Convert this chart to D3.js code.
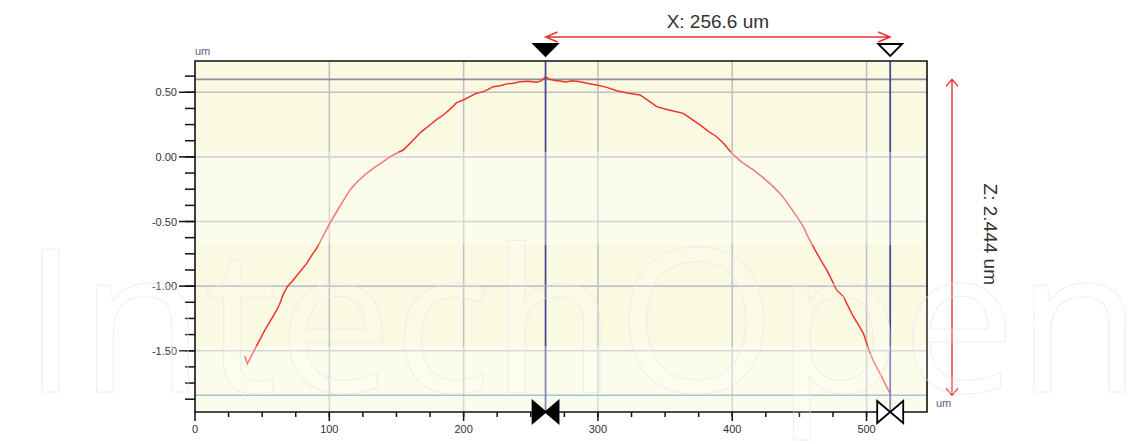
<!DOCTYPE html>
<html>
<head>
<meta charset="utf-8">
<script src="https://cdn.jsdelivr.net/npm/d3@7"></script>
<style>
  body { margin: 0; background: #fff; }
  svg { display: block; font-family: "Liberation Sans", Arial, sans-serif; }
</style>
</head>
<body>
<svg id="chart" width="1143" height="444"></svg>
<script>
// profile (x in um, z in um)
const profileX = [37, 39, 46, 52, 56, 60.8, 63, 65.8, 69, 73.2, 78, 83.2, 87, 90.6, 95, 100.5, 108, 115.4, 121, 127.8,
  134, 140.2, 145, 150.2, 155.1, 162.5, 168, 174.9, 180, 184.8, 190, 194.8, 199.8, 204.7, 209, 214.6, 218, 222, 227, 232,
  237, 242, 248, 254.4, 258, 261, 264, 268, 271.8, 276, 281, 286.7, 292, 299, 306, 314, 322, 331.3, 337, 343.8,
  350, 356, 363.6, 370, 376, 382, 388.4, 394, 399.6, 407, 415.7, 423, 430.6, 437, 443, 448, 452.9, 457, 461.6, 466,
  470.3, 474, 477.7, 482.8, 485.2, 490.2, 494, 497.6, 502.6, 506, 510, 514, 517.5]
const profileZ = [-1.54, -1.6, -1.46, -1.34, -1.27, -1.185, -1.14, -1.06, -1.0, -0.953, -0.89, -0.824, -0.76, -0.707, -0.62, -0.51, -0.38, -0.256, -0.19, -0.127,
  -0.08, -0.037, 0.0, 0.028, 0.053, 0.131, 0.19, 0.247, 0.29, 0.324, 0.37, 0.42, 0.44, 0.466, 0.49, 0.505, 0.52, 0.543, 0.55, 0.565,
  0.57, 0.582, 0.585, 0.577, 0.59, 0.62, 0.6, 0.592, 0.587, 0.58, 0.59, 0.582, 0.57, 0.556, 0.54, 0.512, 0.495, 0.479, 0.44, 0.389,
  0.37, 0.355, 0.337, 0.29, 0.247, 0.2, 0.156, 0.1, 0.028, -0.04, -0.101, -0.16, -0.23, -0.3, -0.385, -0.46, -0.54, -0.63, -0.72, -0.80,
  -0.875, -0.95, -1.03, -1.082, -1.133, -1.237, -1.30, -1.365, -1.52, -1.60, -1.675, -1.76, -1.83]

const xMajorTicks = [0, 100, 200, 300, 400, 500]
const yMajorTicks = [0.5, 0.0, -0.5, -1.0, -1.5]
const yTickLabels = ['0.50', '0.00', '-0.50', '-1.00', '-1.50']

// cursors: x positions, z levels of the two markers
const cursorX = [261, 517.6]
const cursorZ = [0.6, -1.844]
const dxLabel = 'X: 256.6 um'
const dzLabel = 'Z: 2.444 um'

const svg = d3.select('#chart')
// plot box in px (window.top is taken, so pTop etc)
const pLeft = 195, pRight = 927, pTop = 61, pBottom = 412

const x = d3.scaleLinear().domain([0, 545]).range([pLeft, pRight])
const y = d3.scaleLinear().domain([-1.974, 0.742]).range([pBottom, pTop])

// plot background
svg.append('rect')
  .attr('x', pLeft).attr('y', pTop)
  .attr('width', pRight - pLeft).attr('height', pBottom - pTop)
  .attr('fill', '#fafae3')

// grid
const grid = svg.append('g').attr('stroke', '#bfc0c6').attr('stroke-width', 1.6)
grid.selectAll('.vg').data(xMajorTicks.slice(1)).enter().append('line')
  .attr('x1', d => x(d)).attr('x2', d => x(d))
  .attr('y1', pTop).attr('y2', pBottom)
grid.selectAll('.hg').data(yMajorTicks).enter().append('line')
  .attr('y1', d => y(d)).attr('y2', d => y(d))
  .attr('x1', pLeft).attr('x2', pRight)

// horizontal cursor levels
svg.append('line')
  .attr('x1', pLeft).attr('x2', pRight)
  .attr('y1', y(cursorZ[0])).attr('y2', y(cursorZ[0]))
  .attr('stroke', '#8e8e96').attr('stroke-width', 1.6)
svg.append('line')
  .attr('x1', pLeft).attr('x2', pRight)
  .attr('y1', y(cursorZ[1])).attr('y2', y(cursorZ[1]))
  .attr('stroke', '#6aa8bd').attr('stroke-width', 1.6)

// profile curve
const pts = profileX.map((d, i) => [d, profileZ[i]])
svg.append('path')
  .datum(pts)
  .attr('d', d3.line().x(d => x(d[0])).y(d => y(d[1])))
  .attr('fill', 'none')
  .attr('stroke', '#f0322a')
  .attr('stroke-width', 1.5)

// vertical cursors
svg.selectAll('.cur').data(cursorX).enter().append('line')
  .attr('x1', d => x(d)).attr('x2', d => x(d))
  .attr('y1', pTop).attr('y2', pBottom)
  .attr('stroke', '#4a4a90').attr('stroke-width', 1.8)

// washed out bands (scan artefact in the original)
const bands = [[152, 245], [346, 415]]
svg.selectAll('.band').data(bands).enter().append('rect')
  .attr('x', 188).attr('width', 1015 - 188)
  .attr('y', d => d[0]).attr('height', d => d[1] - d[0])
  .attr('fill', '#fff').attr('opacity', 0.35)

// frame
svg.append('path')
  .attr('d', `M${pLeft},${pBottom}V${pTop}H${pRight}V${pBottom}Z`)
  .attr('fill', 'none').attr('stroke', '#111').attr('stroke-width', 1.6)

// y axis ticks
const yMinor = d3.range(-1.875, 0.7, 0.125)
svg.selectAll('.ymin').data(yMinor).enter().append('line')
  .attr('x1', pLeft - 10).attr('x2', pLeft)
  .attr('y1', d => y(d)).attr('y2', d => y(d))
  .attr('stroke', '#111').attr('stroke-width', 1.5)
svg.selectAll('.ymaj').data(yMajorTicks).enter().append('line')
  .attr('x1', pLeft - 16).attr('x2', pLeft)
  .attr('y1', d => y(d)).attr('y2', d => y(d))
  .attr('stroke', '#111').attr('stroke-width', 1.5)
svg.selectAll('.ylab').data(yMajorTicks).enter().append('text')
  .attr('x', pLeft - 18).attr('y', d => y(d) + 4)
  .attr('text-anchor', 'end')
  .attr('font-size', 11).attr('fill', '#333')
  .text((d, i) => yTickLabels[i])

// x axis ticks
const xMinor = d3.range(25, 545, 25)
svg.selectAll('.xmin').data(xMinor).enter().append('line')
  .attr('x1', d => x(d)).attr('x2', d => x(d))
  .attr('y1', pBottom).attr('y2', pBottom + 5)
  .attr('stroke', '#111').attr('stroke-width', 1.5)
svg.selectAll('.xmaj').data(xMajorTicks).enter().append('line')
  .attr('x1', d => x(d)).attr('x2', d => x(d))
  .attr('y1', pBottom).attr('y2', pBottom + 9)
  .attr('stroke', '#111').attr('stroke-width', 1.5)
svg.selectAll('.xlab').data(xMajorTicks).enter().append('text')
  .attr('x', d => x(d)).attr('y', pBottom + 21)
  .attr('text-anchor', 'middle')
  .attr('font-size', 11).attr('fill', '#333')
  .text(d => d)

// unit labels
svg.append('text').attr('x', pLeft).attr('y', 55)
  .attr('font-size', 11).attr('fill', '#5b5b8c').text('um')
svg.append('text').attr('x', 936).attr('y', 407)
  .attr('font-size', 11).attr('fill', '#5b5b8c').text('um')

// cursor markers, top
svg.selectAll('.tmark').data(cursorX).enter().append('path')
  .attr('d', d => `M${x(d) - 12},${pTop - 17}H${x(d) + 12}L${x(d)},${pTop - 5}Z`)
  .attr('fill', (d, i) => i === 0 ? '#000' : '#fff')
  .attr('stroke', '#000').attr('stroke-width', 1.8)
// cursor markers, bottom (bow tie)
svg.selectAll('.bmark').data(cursorX).enter().append('path')
  .attr('d', d => {
    const cx = x(d), h = 11
    return `M${cx - 13},${pBottom - h}L${cx},${pBottom}L${cx - 13},${pBottom + h}Z` +
      `M${cx + 13},${pBottom - h}L${cx},${pBottom}L${cx + 13},${pBottom + h}Z`
  })
  .attr('fill', (d, i) => i === 0 ? '#000' : '#fff')
  .attr('stroke', '#000').attr('stroke-width', 1.8)

// dimension arrows
const red = '#e83232'
const ay = 37
const ax1 = x(cursorX[0]), ax2 = x(cursorX[1])
svg.append('path')
  .attr('d', `M${ax1},${ay}H${ax2}M${ax1 + 12},${ay - 5}L${ax1},${ay}L${ax1 + 12},${ay + 5}` +
    `M${ax2 - 12},${ay - 5}L${ax2},${ay}L${ax2 - 12},${ay + 5}`)
  .attr('fill', 'none').attr('stroke', red).attr('stroke-width', 1.4)
svg.append('text')
  .attr('x', (ax1 + ax2) / 2).attr('y', 28)
  .attr('text-anchor', 'middle').attr('font-size', 19).attr('fill', '#333')
  .text(dxLabel)

const vx = 952
const vy1 = y(cursorZ[0]), vy2 = y(cursorZ[1])
svg.append('path')
  .attr('d', `M${vx},${vy1}V${vy2}M${vx - 6},${vy1 + 7}L${vx},${vy1}L${vx + 6},${vy1 + 7}` +
    `M${vx - 6},${vy2 - 7}L${vx},${vy2}L${vx + 6},${vy2 - 7}`)
  .attr('fill', 'none').attr('stroke', red).attr('stroke-width', 1.4)
svg.append('text')
  .attr('transform', `translate(984,${(vy1 + vy2) / 2 - 3}) rotate(90)`)
  .attr('text-anchor', 'middle').attr('font-size', 19).attr('fill', '#333')
  .text(dzLabel)

// publisher watermark, very faint outlines
svg.append('text')
  .attr('x', 22).attr('y', 392)
  .attr('font-family', 'Open Sans').attr('font-size', 200)
  .attr('textLength', 1120).attr('lengthAdjust', 'spacingAndGlyphs')
  .attr('fill', '#fff').attr('fill-opacity', 0.15)
  .attr('stroke', '#e4e4e4').attr('stroke-width', 1).attr('stroke-opacity', 0.6)
  .style('pointer-events', 'none')
  .text('IntechOpen')
</script>
</body>
</html>
